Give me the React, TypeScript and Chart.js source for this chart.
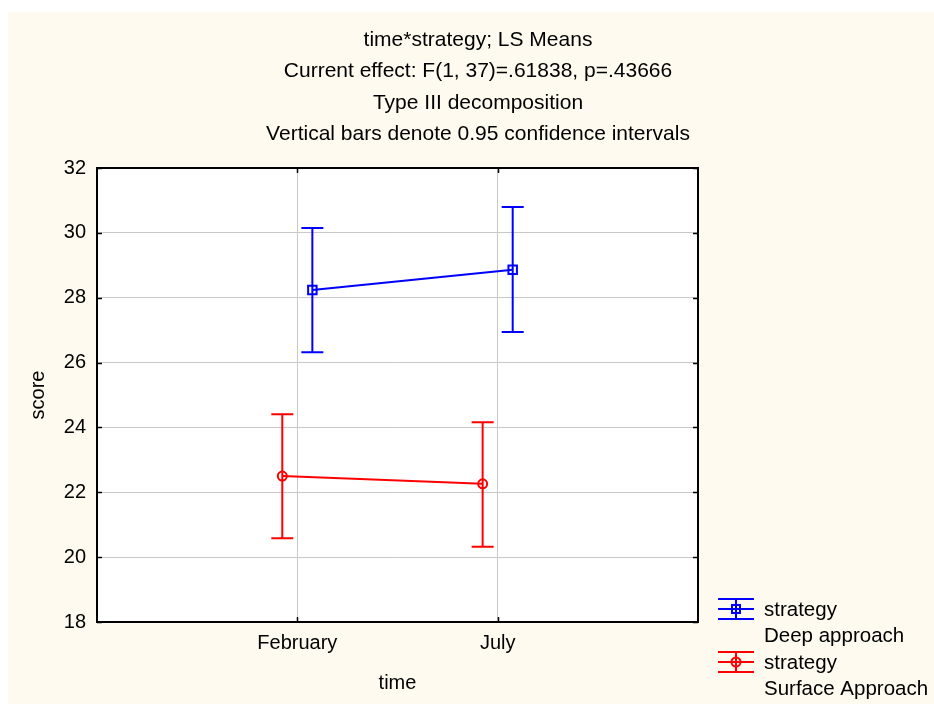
import React, { useEffect, useRef } from 'react';
import { Chart, registerables } from 'chart.js';

Chart.register(...registerables);

const titleLines = [
  'time*strategy; LS Means',
  'Current effect: F(1, 37)=.61838, p=.43666',
  'Type III decomposition',
  'Vertical bars denote 0.95 confidence intervals',
];
const categories = ['February', 'July'];
const xAxisTitle = 'time';
const yAxisTitle = 'score';
const legendLines1 = ['strategy', 'Deep approach'];
const legendLines2 = ['strategy', 'Surface Approach'];

const deepMeans = [28.24, 28.86];
const deepLower = [26.32, 26.94];
const deepUpper = [30.15, 30.8];
const surfaceMeans = [22.5, 22.26];
const surfaceLower = [20.58, 20.32];
const surfaceUpper = [24.41, 24.16];

const yMin = 18;
const yMax = 32;
const yStep = 2;

const FONT = '"Liberation Sans", Arial, sans-serif';
const CREAM = '#fefaf0';
const BLUE = '#0000ff';
const RED = '#ff0000';
const DODGE = 0.075;

const lowers = [deepLower, surfaceLower];
const uppers = [deepUpper, surfaceUpper];

const customPlugin = {
  id: 'statStyle',
  beforeDraw(chart: any) {
    const { ctx, chartArea: a, width, height } = chart;
    ctx.save();
    ctx.fillStyle = CREAM;
    ctx.fillRect(0, 0, width, height);
    ctx.fillStyle = '#ffffff';
    ctx.fillRect(a.left, a.top, a.right - a.left, a.bottom - a.top);
    ctx.restore();
  },
  beforeDatasetsDraw(chart: any) {
    const { ctx, chartArea: a, scales } = chart;
    const ys = scales.y;
    const xs = scales.x;
    ctx.save();
    ctx.strokeStyle = '#000';
    ctx.lineWidth = 1.5;
    ctx.beginPath();
    ys.ticks.forEach((t: any) => {
      const py = Math.round(ys.getPixelForValue(t.value)) + 0.5;
      ctx.moveTo(a.left, py);
      ctx.lineTo(a.left + 5, py);
      ctx.moveTo(a.right, py);
      ctx.lineTo(a.right - 5, py);
    });
    xs.ticks.forEach((t: any) => {
      const px = Math.round(xs.getPixelForValue(t.value)) + 0.5;
      ctx.moveTo(px, a.bottom);
      ctx.lineTo(px, a.bottom - 5);
      ctx.moveTo(px, a.top);
      ctx.lineTo(px, a.top + 5);
    });
    ctx.stroke();
    ctx.lineWidth = 2;
    ctx.strokeRect(a.left, a.top, a.right - a.left, a.bottom - a.top);
    chart.data.datasets.forEach((ds: any, di: number) => {
      const meta = chart.getDatasetMeta(di);
      ctx.strokeStyle = ds.borderColor;
      ctx.lineWidth = 2;
      meta.data.forEach((pt: any, i: number) => {
        const x = pt.x;
        const yl = ys.getPixelForValue(lowers[di][i]);
        const yu = ys.getPixelForValue(uppers[di][i]);
        ctx.beginPath();
        ctx.moveTo(x, yl);
        ctx.lineTo(x, yu);
        ctx.moveTo(x - 11, yl);
        ctx.lineTo(x + 11, yl);
        ctx.moveTo(x - 11, yu);
        ctx.lineTo(x + 11, yu);
        ctx.stroke();
      });
    });
    ctx.restore();
  },
  afterDraw(chart: any) {
    const { ctx } = chart;
    ctx.save();
    ctx.fillStyle = '#000';
    ctx.textBaseline = 'middle';
    ctx.textAlign = 'center';
    ctx.font = `21px ${FONT}`;
    const ty = [28, 59, 91, 122];
    titleLines.forEach((t, i) => ctx.fillText(t, 470, ty[i]));

    const drawIcon = (color: string, yc: number, style: string) => {
      ctx.strokeStyle = color;
      ctx.lineWidth = 2;
      const x0 = 710, x1 = 746, xc = 728;
      ctx.beginPath();
      [yc - 10, yc, yc + 10].forEach((yy) => {
        ctx.moveTo(x0, yy);
        ctx.lineTo(x1, yy);
      });
      ctx.moveTo(xc, yc - 10);
      ctx.lineTo(xc, yc + 10);
      ctx.stroke();
      ctx.beginPath();
      if (style === 'rect') ctx.rect(xc - 4, yc - 4, 8, 8);
      else ctx.arc(xc, yc, 4.5, 0, Math.PI * 2);
      ctx.stroke();
    };
    drawIcon(BLUE, 597, 'rect');
    drawIcon(RED, 650, 'circle');
    ctx.fillStyle = '#000';
    ctx.textAlign = 'left';
    ctx.font = `20.5px ${FONT}`;
    ctx.fillText(legendLines1[0], 756, 598);
    ctx.fillText(legendLines1[1], 756, 624);
    ctx.fillText(legendLines2[0], 756, 651);
    ctx.fillText(legendLines2[1], 756, 677);
    ctx.restore();
  },
};

export default function App() {
  const ref = useRef<HTMLCanvasElement | null>(null);
  useEffect(() => {
    if (!ref.current) return;
    const chart = new Chart(ref.current, {
      type: 'line',
      data: {
        datasets: [
          {
            label: 'Deep approach',
            data: deepMeans.map((v, i) => ({ x: i + 1 + DODGE, y: v })),
            borderColor: BLUE,
            backgroundColor: 'transparent',
            borderWidth: 2,
            pointStyle: 'rect',
            pointRadius: 6,
            pointBorderWidth: 2,
            pointBorderColor: BLUE,
            pointBackgroundColor: 'transparent',
          },
          {
            label: 'Surface Approach',
            data: surfaceMeans.map((v, i) => ({ x: i + 1 - DODGE, y: v })),
            borderColor: RED,
            backgroundColor: 'transparent',
            borderWidth: 2,
            pointStyle: 'circle',
            pointRadius: 4.5,
            pointBorderWidth: 2,
            pointBorderColor: RED,
            pointBackgroundColor: 'transparent',
          },
        ],
      },
      options: {
        animation: false,
        responsive: false,
        devicePixelRatio: 1,
        layout: { padding: { top: 156, right: 236, left: 0, bottom: 0 } },
        plugins: { legend: { display: false }, tooltip: { enabled: false }, title: { display: false } },
        scales: {
          x: {
            type: 'linear',
            min: 0,
            max: categories.length + 1,
            afterBuildTicks: (scale: any) => {
              scale.ticks = categories.map((_, i) => ({ value: i + 1 }));
            },
            afterFit: (scale: any) => {
              scale.height = 82;
            },
            ticks: {
              callback: (v: any) => categories[Number(v) - 1] ?? '',
              font: { family: FONT, size: 20 },
              color: '#000',
              padding: 9,
              maxRotation: 0,
              autoSkip: false,
            },
            grid: { color: '#c8c8c8', drawTicks: false, lineWidth: 1 },
            border: { display: false },
            title: {
              display: true,
              text: xAxisTitle,
              font: { family: FONT, size: 20 },
              color: '#000',
              padding: { top: 0, bottom: 9 },
            },
          },
          y: {
            min: yMin,
            max: yMax,
            afterFit: (scale: any) => {
              scale.width = 89;
            },
            ticks: {
              stepSize: yStep,
              font: { family: FONT, size: 20 },
              color: '#000',
              padding: 11,
            },
            grid: { color: '#c8c8c8', drawTicks: false, lineWidth: 1 },
            border: { display: false },
            title: {
              display: true,
              text: yAxisTitle,
              font: { family: FONT, size: 20 },
              color: '#000',
              padding: { top: 18, bottom: 0 },
            },
          },
        },
      },
      plugins: [customPlugin],
    } as any);
    return () => chart.destroy();
  }, []);
  return (
    <div style={{ position: 'fixed', left: 8, top: 12, width: 926, height: 692 }}>
      <canvas ref={ref} width={926} height={692} style={{ width: 926, height: 692, display: 'block' }} />
    </div>
  );
}
